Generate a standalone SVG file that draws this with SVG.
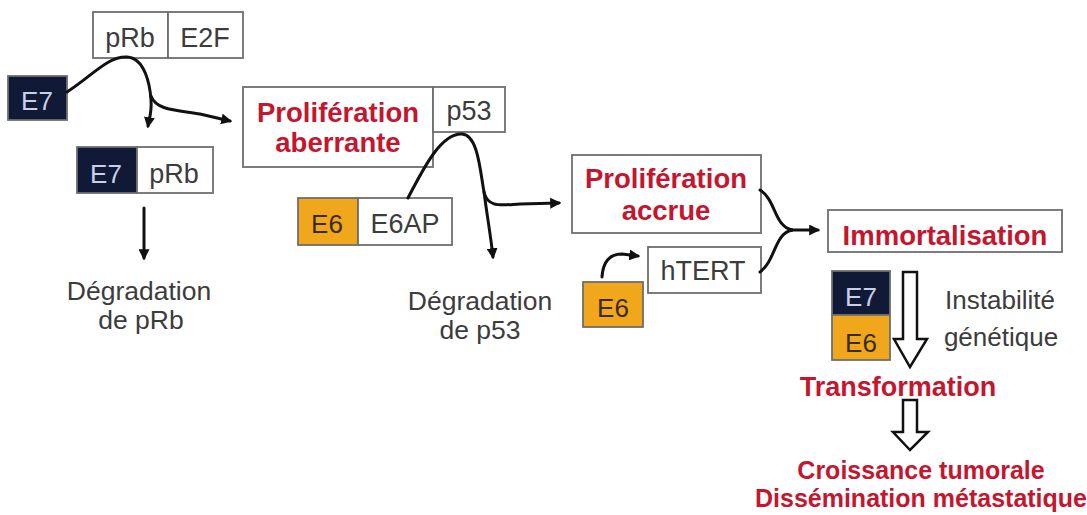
<svg xmlns="http://www.w3.org/2000/svg" width="1087" height="515" viewBox="0 0 1087 515">
<defs>
<style>
.bx{fill:#fff;stroke:#6e6e6e;stroke-width:1.8}
.dk{fill:#101a36;stroke:#6e6e6e;stroke-width:1.8}
.or{fill:#f1a71c;stroke:#6e6e6e;stroke-width:1.8}
.t{font-family:"Liberation Sans",Arial,sans-serif;font-size:27px;fill:#3c3c3c;text-anchor:middle}
.tl{font-family:"Liberation Sans",Arial,sans-serif;font-size:26px;fill:#c9cfe8;text-anchor:middle}
.tb{font-family:"Liberation Sans",Arial,sans-serif;font-size:26px;fill:#3a2a08;text-anchor:middle}
.r{font-family:"Liberation Sans",Arial,sans-serif;font-size:27.5px;font-weight:bold;fill:#c4162f;text-anchor:middle}
.c{fill:none;stroke:#111;stroke-width:3;stroke-linecap:round}
.h{fill:#fff;stroke:#111;stroke-width:2.5;stroke-linejoin:miter}
</style>
<marker id="ah" viewBox="0 0 10 10" refX="8" refY="5" markerWidth="11" markerHeight="11" markerUnits="userSpaceOnUse" orient="auto">
<path d="M0,0 L10,5 L0,10 z" fill="#111"/>
</marker>
</defs>

<g id="pRb-E2F">
<rect class="bx" x="93" y="12" width="75" height="46"/>
<rect class="bx" x="168" y="12" width="75" height="46"/>
<text class="t" x="130" y="47">pRb</text>
<text class="t" x="205" y="47">E2F</text>
</g>

<g id="E7-left">
<rect class="dk" x="8" y="76" width="59" height="44"/>
<text class="tl" x="37" y="110">E7</text>
</g>

<g id="E7-pRb">
<rect class="dk" x="77" y="147" width="60" height="46"/>
<rect class="bx" x="137" y="147" width="76" height="46"/>
<text class="tl" x="106" y="183">E7</text>
<text class="t" x="174" y="183">pRb</text>
</g>

<g id="deg-pRb">
<text class="t" x="139" y="300" style="font-size:26.5px">Dégradation</text>
<text class="t" x="141" y="329" style="font-size:26.5px">de pRb</text>
</g>

<g id="prolif-aberrante">
<rect class="bx" x="243" y="87" width="190" height="80"/>
<text class="r" x="338" y="122">Prolifération</text>
<text class="r" x="338" y="152">aberrante</text>
</g>

<g id="p53">
<rect class="bx" x="433" y="87" width="72" height="45"/>
<text class="t" x="469" y="120">p53</text>
</g>

<g id="E6-E6AP">
<rect class="or" x="298" y="198" width="60" height="47"/>
<rect class="bx" x="358" y="198" width="94" height="47"/>
<text class="tb" x="327" y="233">E6</text>
<text class="t" x="405" y="233">E6AP</text>
</g>

<g id="deg-p53">
<text class="t" x="480" y="310" style="font-size:26.5px">Dégradation</text>
<text class="t" x="480" y="339" style="font-size:26.5px">de p53</text>
</g>

<g id="prolif-accrue">
<rect class="bx" x="572" y="155" width="189" height="78"/>
<text class="r" x="666" y="188">Prolifération</text>
<text class="r" x="666" y="220">accrue</text>
</g>

<g id="hTERT">
<rect class="bx" x="648" y="247" width="113" height="46"/>
<text class="t" x="703" y="280">hTERT</text>
</g>

<g id="E6-small">
<rect class="or" x="583" y="282" width="60" height="45"/>
<text class="tb" x="613" y="317">E6</text>
</g>

<g id="immortalisation">
<rect class="bx" x="828" y="210" width="234" height="42"/>
<text class="r" x="945" y="245">Immortalisation</text>
</g>

<g id="E7-E6-stack">
<rect class="dk" x="832" y="271" width="58" height="44"/>
<rect class="or" x="832" y="315" width="58" height="45"/>
<text class="tl" x="861" y="306">E7</text>
<text class="tb" x="861" y="352">E6</text>
</g>

<g id="instabilite">
<text class="t" x="1000" y="309" style="font-size:26px">Instabilité</text>
<text class="t" x="1001" y="346" style="font-size:26px">génétique</text>
</g>

<g id="transformation">
<text class="r" x="898" y="396" style="font-size:27px">Transformation</text>
</g>

<g id="croissance">
<text class="r" x="921" y="479" style="font-size:25px">Croissance tumorale</text>
<text class="r" x="921" y="507" style="font-size:25px">Dissémination métastatique</text>
</g>

<g id="connectors">
<path class="c" d="M67,92 C92,76 108,56 127,57 C145,58 150,85 151,100 C152,112 149,120 148,126" marker-end="url(#ah)"/>
<path class="c" d="M151,96 C156,110 175,110 200,114 L230,121" marker-end="url(#ah)"/>
<path class="c" d="M144,208 L144,258" marker-end="url(#ah)"/>
<path class="c" d="M408,198 C425,165 442,133 462,134 C478,135 480,170 484,192 C487,215 491,238 493,257" marker-end="url(#ah)"/>
<path class="c" d="M484,192 C488,208 500,205 520,204 L559,203" marker-end="url(#ah)"/>
<path class="c" d="M602,277 C603,262 610,254 622,254 L638,256" marker-end="url(#ah)"/>
<path class="c" d="M760,190 C776,200 774,226 792,230"/>
<path class="c" d="M760,272 C776,260 774,234 792,230"/>
<path class="c" d="M790,230 L818,230" marker-end="url(#ah)"/>
<path class="h" d="M903,272 L917,272 L917,339 L927,339 L910,367 L894,339 L903,339 Z"/>
<path class="h" d="M903,400 L917,400 L917,432 L928,432 L910,450 L893,432 L903,432 Z"/>
</g>
</svg>
